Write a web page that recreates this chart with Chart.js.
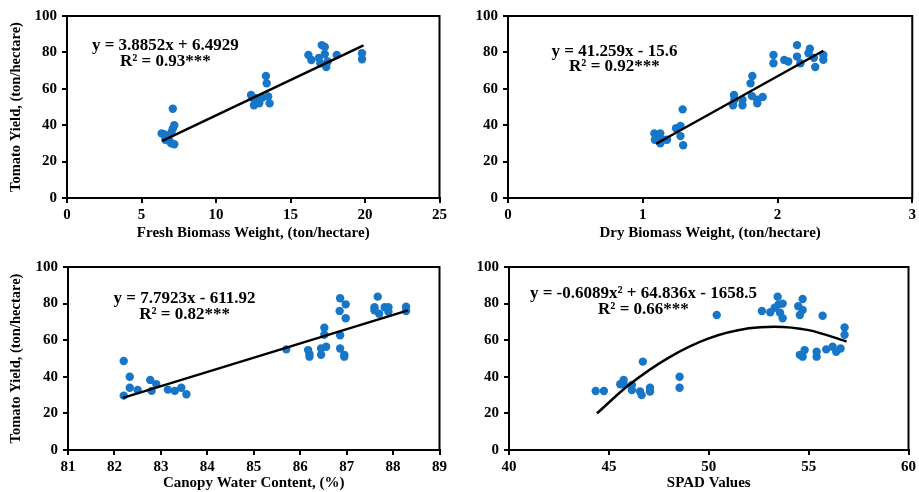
<!DOCTYPE html>
<html>
<head>
<title>Tomato Yield Regressions</title>
<script src="https://cdn.jsdelivr.net/npm/chart.js"></script>
<style>
  body { margin: 0; background: #fff; width: 919px; height: 492px; position: relative; overflow: hidden; }
  canvas { position: absolute; }
</style>
</head>
<body>
<canvas id="c1" width="450" height="245" style="left:0;top:0"></canvas>
<canvas id="c2" width="469" height="245" style="left:450px;top:0"></canvas>
<canvas id="c3" width="450" height="242" style="left:0;top:250px"></canvas>
<canvas id="c4" width="469" height="242" style="left:450px;top:250px"></canvas>
<script>
// Fresh biomass weight vs yield
const freshX = [6.35, 6.5, 6.7, 6.6, 6.8, 6.9, 7.0, 7.2, 7.0, 7.1, 7.2, 7.1,
  12.35, 12.45, 12.55, 12.65, 12.9, 13.1, 13.35, 13.4, 13.5, 13.6, 12.8,
  16.2, 16.4, 16.9, 17.1, 17.3, 17.3, 17.5, 17.4, 18.1, 19.8, 19.8, 17.0];
const freshY = [35.5, 35, 34, 32, 33, 31, 30, 29.5, 36, 38, 40, 49,
  56.6, 55, 51, 54.8, 52, 55, 67, 63, 55.8, 52, 53,
  78.6, 75.8, 77, 84, 83, 79, 75, 72, 78.6, 79.5, 76.2, 74];
const freshFitX = [6.4, 19.9];
const freshFitY = [31.4, 83.8];

// Dry biomass weight vs yield
const dryX = [1.086, 1.1, 1.13, 1.09, 1.13, 1.15, 1.18, 1.247, 1.28, 1.28, 1.30, 1.296,
  1.813, 1.80, 1.677, 1.68, 1.67, 1.74, 1.74, 1.81, 1.85, 1.85, 1.89,
  1.97, 1.97, 2.05, 2.08, 2.145, 2.145, 2.17, 2.24, 2.23, 2.27, 2.28, 2.34, 2.34];
const dryY = [35.5, 34, 35.5, 32, 30, 32, 32, 38.3, 39.6, 34, 29, 48.7,
  67, 63, 56.6, 54, 51, 54, 51, 56, 54, 52, 55.5,
  78.6, 74, 75.8, 75, 84, 77.7, 74, 82, 79.5, 77, 72, 78.6, 76];
const dryFitX = [1.1, 2.34];
const dryFitY = [29.8, 80.9];

// Canopy water content vs yield
const cwcX = [82.2, 82.2, 82.33, 82.33, 82.5, 82.77, 82.8, 82.9, 83.15, 83.3, 83.44, 83.55,
  85.7, 86.17, 86.2, 86.2, 86.52, 86.52, 86.45, 86.56, 86.45,
  86.86, 86.98, 86.85, 86.98, 86.86, 86.86, 86.95, 86.95,
  87.67, 87.6, 87.7, 87.82, 87.9, 87.9, 88.28, 88.28, 87.6];
const cwcY = [48.6, 29.7, 40, 34, 32.8, 38.3, 32.3, 36, 33, 32.3, 34, 30.5,
  55, 54.6, 52.4, 51, 66.8, 63, 55.5, 56.4, 52,
  82.9, 79.6, 76, 72, 62.7, 55.5, 52, 51,
  83.8, 76.4, 74.5, 78, 78, 75.5, 78.3, 76, 78];
const cwcFitX = [82.18, 88.32];
const cwcFitY = [28.5, 76.3];

// SPAD values vs yield
const spadX = [44.34, 44.75, 45.57, 45.74, 45.74, 46.15, 46.15, 46.56, 46.64, 46.7, 47.06, 47.06,
  48.54, 48.54, 50.4, 52.66, 53.08, 53.45, 53.3, 53.5, 53.7, 53.57, 53.7,
  54.48, 54.56, 54.7, 54.7, 54.56, 54.8, 54.7, 55.4, 55.4, 55.7,
  55.88, 56.2, 56.38, 56.6, 56.8, 56.8];
const spadY = [32.2, 32.2, 35.9, 38.3, 35.9, 35.5, 32.8, 32, 30, 48.3, 34, 32,
  40, 34, 73.8, 76, 75.3, 83.8, 77.7, 79.6, 80, 75, 72,
  78.6, 73.8, 76.5, 82.5, 52, 54.6, 51, 53.7, 51, 73.4,
  55, 56.4, 53.7, 55.5, 63, 67];
const spadFitX = [44.4, 46, 48, 50, 52, 53.3, 55, 56.9];
const spadFitY = [20, 35.5, 50.5, 61, 66.5, 67.4, 65.5, 59.3];

const yTicks = [0, 20, 40, 60, 80, 100];

const pts = (xs, ys) => xs.map((x, i) => ({ x: x, y: ys[i] }));
const serif = '"Liberation Serif", "Times New Roman", serif';

const framePlugin = {
  id: 'frame',
  afterDraw(chart, args, opts) {
    const { ctx, chartArea: a, scales } = chart;
    ctx.save();
    ctx.strokeStyle = '#000';
    ctx.lineWidth = 2;
    ctx.strokeRect(a.left, a.top, a.right - a.left, a.bottom - a.top);
    ctx.fillStyle = '#000';
    ctx.font = 'bold 17px ' + serif;
    ctx.textAlign = 'center';
    ctx.textBaseline = 'middle';
    (opts.labels || []).forEach(l => {
      ctx.fillText(l.text, scales.x.getPixelForValue(l.x), scales.y.getPixelForValue(l.y));
    });
    ctx.restore();
  }
};

function makeChart(id, c) {
  const axisGrid = { display: true, drawOnChartArea: false, drawTicks: true, tickLength: 5, color: '#000', lineWidth: 2 };
  return new Chart(document.getElementById(id), {
    type: 'scatter',
    data: {
      datasets: [{
        data: pts(c.fitX, c.fitY),
        showLine: true,
        borderColor: '#000',
        borderWidth: 2.5,
        pointRadius: 0,
        fill: false,
        cubicInterpolationMode: c.curve ? 'monotone' : 'default'
      }, {
        data: pts(c.x, c.y),
        backgroundColor: 'rgb(24,118,200)',
        borderColor: 'rgb(24,118,200)',
        pointRadius: 4.2,
        borderWidth: 0
      }]
    },
    options: {
      responsive: false,
      animation: false,
      layout: { padding: c.padding },
      plugins: { legend: { display: false }, tooltip: { enabled: false }, frame: { labels: c.labels } },
      scales: {
        x: {
          type: 'linear', min: c.xMin, max: c.xMax,
          afterFit: s => { s.height = c.xHeight; },
          grid: axisGrid,
          border: { display: true, color: '#000', width: 2 },
          ticks: { stepSize: c.xStep, color: '#000', padding: 3, font: { family: serif, size: 15, weight: 'bold' } },
          title: { display: true, text: c.xTitle, color: '#000', padding: { top: 0, bottom: c.xTitlePad }, font: { family: serif, size: 15, weight: 'bold' } }
        },
        y: {
          min: 0, max: 100,
          afterFit: s => { s.width = c.yWidth; },
          afterBuildTicks: s => { s.ticks = yTicks.map(v => ({ value: v })); },
          grid: axisGrid,
          border: { display: true, color: '#000', width: 2 },
          ticks: { color: '#000', padding: 5, font: { family: serif, size: 15, weight: 'bold' } },
          title: { display: !!c.yTitle, text: c.yTitle || '', color: '#000', padding: { top: 8, bottom: 0 }, font: { family: serif, size: 14.5, weight: 'bold' } }
        }
      }
    },
    plugins: [framePlugin]
  });
}

makeChart('c1', {
  x: freshX, y: freshY, fitX: freshFitX, fitY: freshFitY,
  xMin: 0, xMax: 25, xStep: 5, xTitle: 'Fresh Biomass Weight, (ton/hectare)', xTitlePad: 3,
  yTitle: 'Tomato Yield, (ton/hectare)',
  padding: { top: 16, right: 9, left: 0, bottom: 0 }, yWidth: 67, xHeight: 47,
  labels: [{ text: 'y = 3.8852x + 6.4929', x: 6.6, y: 84 }, { text: 'R² = 0.93***', x: 6.6, y: 74.7 }]
});
makeChart('c2', {
  x: dryX, y: dryY, fitX: dryFitX, fitY: dryFitY,
  xMin: 0, xMax: 3, xStep: 1, xTitle: 'Dry Biomass Weight, (ton/hectare)', xTitlePad: 3,
  padding: { top: 16, right: 5, left: 0, bottom: 0 }, yWidth: 58, xHeight: 47,
  labels: [{ text: 'y = 41.259x - 15.6', x: 0.79, y: 80.2 }, { text: 'R² = 0.92***', x: 0.79, y: 72 }]
});
makeChart('c3', {
  x: cwcX, y: cwcY, fitX: cwcFitX, fitY: cwcFitY,
  xMin: 81, xMax: 89, xStep: 1, xTitle: 'Canopy Water Content, (%)', xTitlePad: 0,
  yTitle: 'Tomato Yield, (ton/hectare)',
  padding: { top: 17, right: 9, left: 0, bottom: 0 }, yWidth: 68, xHeight: 42,
  labels: [{ text: 'y = 7.7923x - 611.92', x: 83.51, y: 83 }, { text: 'R² = 0.82***', x: 83.51, y: 73.8 }]
});
makeChart('c4', {
  x: spadX, y: spadY, fitX: spadFitX, fitY: spadFitY, curve: true,
  xMin: 40, xMax: 60, xStep: 5, xTitle: 'SPAD Values', xTitlePad: 0,
  padding: { top: 17, right: 6, left: 0, bottom: 0 }, yWidth: 59, xHeight: 42,
  labels: [{ text: 'y = -0.6089x² + 64.836x - 1658.5', x: 46.73, y: 85.6 }, { text: 'R² = 0.66***', x: 46.73, y: 76.5 }]
});
</script>
</body>
</html>
